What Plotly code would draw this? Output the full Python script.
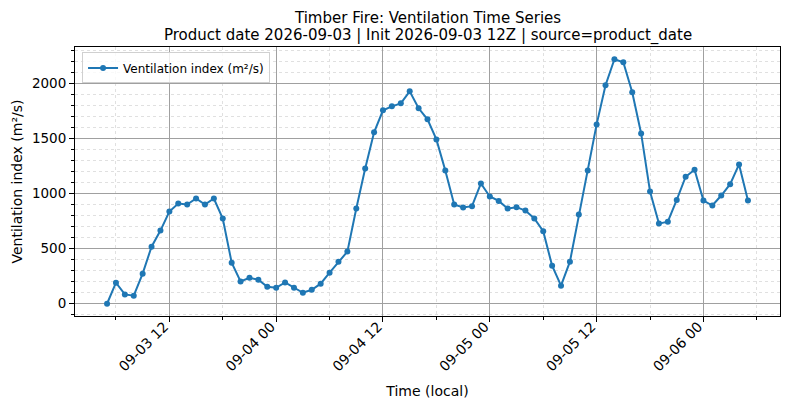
import pandas as pd
import plotly.graph_objects as go

# hourly ventilation index, 09-03 05:00 .. 09-06 05:00 (local)
start_time = "2026-09-03 05:00"
vent_index = [
    0, 191, 85, 73, 273, 518, 664, 836, 909, 900, 955, 900, 955, 773,
    373, 203, 236, 218, 155, 145, 194, 145, 100, 127,
    182, 282, 382, 473, 864, 1227, 1555, 1755, 1791, 1818, 1927, 1773,
    1673, 1491, 1209, 900, 873, 885, 1091,
    973, 933, 864, 876, 845, 773, 658, 345, 164, 382, 809, 1209, 1627,
    1982, 2218, 2191, 1918, 1545, 1018, 727, 745, 942, 1152, 1215,
    936, 891, 982, 1085, 1264, 936,
]
times = pd.date_range(start_time, periods=len(vent_index), freq="h")

title_lines = [
    "Timber Fire: Ventilation Time Series",
    "Product date 2026-09-03 | Init 2026-09-03 12Z | source=product_date",
]
series_name = "Ventilation index (m²/s)"

fig = go.Figure()
fig.add_trace(go.Scatter(
    x=times,
    y=vent_index,
    mode="lines+markers",
    name=series_name,
    line=dict(color="#1f77b4", width=2),
    marker=dict(color="#1f77b4", size=6),
))

font = "DejaVu Sans, Liberation Sans, sans-serif"
HOUR = 3600000
# the page body adds an 8px margin, so the figure is 8px smaller each way
W, H = 782, 401
M_L, M_R, M_T, M_B = 67, 10, 39, 93
plot_h = H - M_T - M_B

# two-line title as annotations so the plot box stays put
for i, line in enumerate(title_lines):
    fig.add_annotation(
        text=line, showarrow=False,
        xref="paper", yref="paper",
        x=0.5, y=1 + (29.5 - 18 * i) / plot_h,
        xanchor="center", yanchor="middle",
        font=dict(size=15, color="black"),
    )

fig.update_layout(
    width=W,
    height=H,
    margin=dict(l=M_L, r=M_R, t=M_T, b=M_B, autoexpand=False),
    paper_bgcolor="white",
    plot_bgcolor="white",
    font=dict(family=font, size=14, color="black"),
    showlegend=True,
    legend=dict(
        x=0.01, y=0.98, xanchor="left", yanchor="top",
        bgcolor="rgba(255,255,255,0.8)",
        bordercolor="#d0d0d0", borderwidth=1,
        font=dict(size=12),
    ),
)

fig.update_xaxes(
    automargin=False,
    title=dict(text="Time (local)", font=dict(size=14), standoff=12),
    range=["2026-09-03 01:24", "2026-09-06 08:36"],
    tick0="2026-09-03 00:00",
    dtick=12 * HOUR,
    tickformat="%m-%d %H",
    tickangle=-45,
    tickfont=dict(size=14),
    ticklabelstandoff=-9,
    ticklabelshift=-5,
    ticks="outside", ticklen=5, tickcolor="black",
    showline=True, linecolor="black", linewidth=1, mirror=True,
    showgrid=True, gridcolor="#a0a0a0", gridwidth=1,
    zeroline=False,
    minor=dict(
        tick0="2026-09-03 00:00", dtick=6 * HOUR,
        ticks="outside", ticklen=3, tickcolor="black",
        showgrid=True, gridcolor="#e0e0e0", griddash="dot", gridwidth=1,
    ),
)

fig.update_yaxes(
    automargin=False,
    title=dict(text="Ventilation index (m²/s)", font=dict(size=14), standoff=6),
    range=[-111, 2329],
    tick0=0, dtick=500,
    tickfont=dict(size=13.5),
    ticks="outside", ticklen=5, tickcolor="black",
    showline=True, linecolor="black", linewidth=1, mirror=True,
    showgrid=True, gridcolor="#a0a0a0", gridwidth=1,
    zeroline=False,
    minor=dict(
        tick0=0, dtick=100,
        ticks="outside", ticklen=3, tickcolor="black",
        showgrid=True, gridcolor="#e0e0e0", griddash="dot", gridwidth=1,
    ),
)

fig.write_html("out.html")
